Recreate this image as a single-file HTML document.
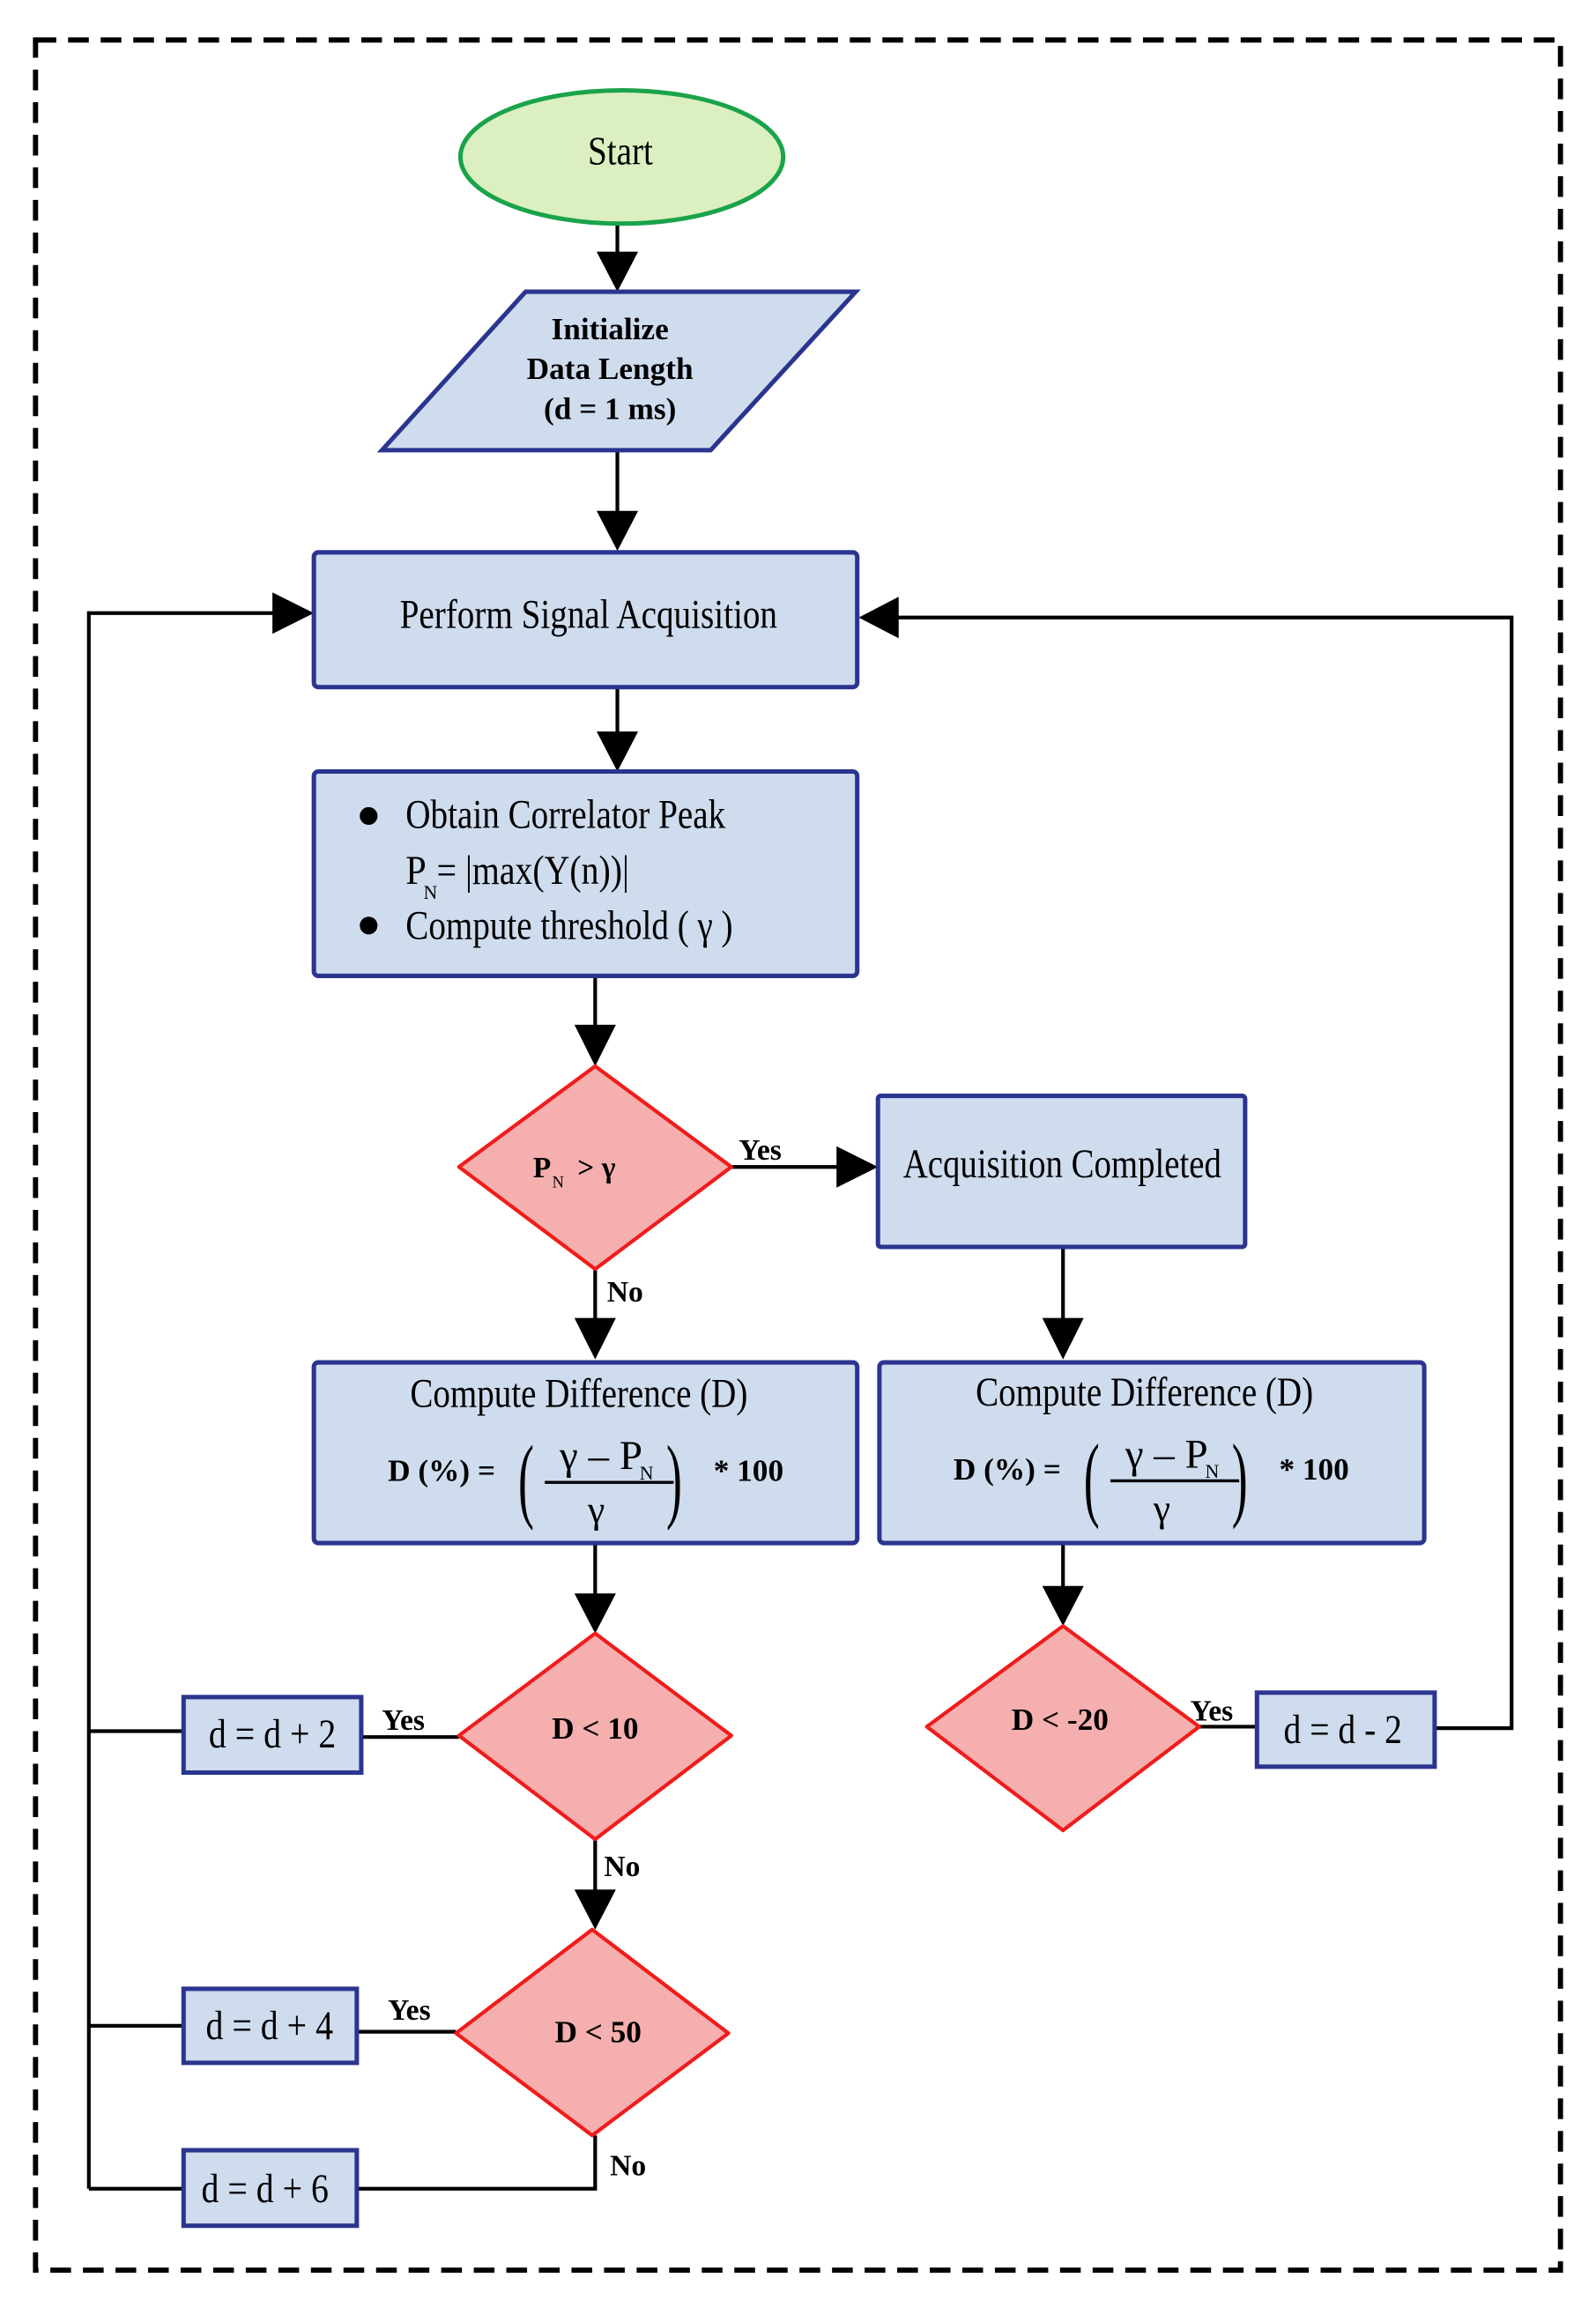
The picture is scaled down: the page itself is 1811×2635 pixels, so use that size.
<!DOCTYPE html>
<html><head><meta charset="utf-8"><style>
html,body{margin:0;padding:0;background:#fff}
svg{display:block}
text{font-family:"Liberation Serif",serif;fill:#000}
.b{font-weight:bold}
</style></head><body>
<svg width="1811" height="2635" viewBox="0 0 1078 1568" preserveAspectRatio="none" xmlns="http://www.w3.org/2000/svg">
<rect x="24" y="27" width="1030" height="1506" fill="none" stroke="#000" stroke-width="3.5" stroke-dasharray="14 8"/>

<g stroke="#000" stroke-width="2.5" fill="none">
<line x1="417" y1="152" x2="417" y2="175"/>
<line x1="417" y1="304" x2="417" y2="350"/>
<line x1="417" y1="464" x2="417" y2="499"/>
<line x1="402" y1="659" x2="402" y2="698"/>
<line x1="494" y1="788" x2="570" y2="788"/>
<line x1="402" y1="857" x2="402" y2="896"/>
<line x1="718" y1="842" x2="718" y2="896"/>
<line x1="402" y1="1042" x2="402" y2="1081"/>
<line x1="718" y1="1042" x2="718" y2="1076"/>
<line x1="810" y1="1166" x2="849" y2="1166"/>
<polyline points="969,1167 1021,1167 1021,417 600,417"/>
<line x1="244" y1="1173" x2="310" y2="1173"/>
<line x1="124" y1="1169" x2="60" y2="1169"/>
<line x1="402" y1="1242" x2="402" y2="1281"/>
<line x1="241" y1="1372" x2="308" y2="1372"/>
<line x1="124" y1="1368" x2="60" y2="1368"/>
<polyline points="402,1442 402,1478 241,1478"/>
<line x1="124" y1="1478" x2="60" y2="1478"/>
<polyline points="60,1478 60,414 190,414"/>
</g>
<g fill="#000">
<polygon points="403,170 431,170 417,197"/>
<polygon points="403,345 431,345 417,372"/>
<polygon points="403,494 431,494 417,521"/>
<polygon points="388,692 416,692 402,720"/>
<polygon points="565,774 565,802 593,788"/>
<polygon points="388,890 416,890 402,918"/>
<polygon points="704,890 732,890 718,918"/>
<polygon points="388,1076 416,1076 402,1103"/>
<polygon points="704,1071 732,1071 718,1098"/>
<polygon points="388,1276 416,1276 402,1303"/>
<polygon points="184,400 184,428 212,414"/>
<polygon points="607,403 607,431 580,417"/>
</g>

<ellipse cx="420" cy="106" rx="109" ry="45" fill="#dcefc0" stroke="#1aa34a" stroke-width="3"/>
<text x="419" y="111" font-size="27" text-anchor="middle" textLength="44" lengthAdjust="spacingAndGlyphs">Start</text>

<polygon points="258,304 355,197 578,197 480,304" fill="#cfdcee" stroke="#2b3590" stroke-width="3"/>
<text class="b" x="412" y="229" font-size="21" text-anchor="middle">Initialize</text>
<text class="b" x="412" y="256" font-size="21" text-anchor="middle">Data Length</text>
<text class="b" x="412" y="283" font-size="21" text-anchor="middle">(d = 1 ms)</text>

<g fill="#cfdcee" stroke="#2b3590" stroke-width="3">
<rect x="212" y="373" width="367" height="91" rx="3"/>
<rect x="212" y="521" width="367" height="138" rx="3"/>
<rect x="593" y="740" width="248" height="102" rx="2"/>
<rect x="212" y="920" width="367" height="122" rx="3"/>
<rect x="594" y="920" width="368" height="122" rx="3"/>
<rect x="849" y="1143" width="120" height="50"/>
<rect x="124" y="1146" width="120" height="51"/>
<rect x="124" y="1343" width="117" height="50"/>
<rect x="124" y="1452" width="117" height="51"/>
</g>
<g fill="#f4afae" stroke="#f01c1c" stroke-width="2.5" stroke-linejoin="round">
<polygon points="402,720 494,788 402,857 310,788"/>
<polygon points="402,1103 494,1172 402,1242 310,1172"/>
<polygon points="718,1098 810,1166 718,1236 626,1166"/>
<polygon points="400,1303 492,1373 400,1442 308,1373"/>
</g>

<text x="270" y="424" font-size="28" textLength="255" lengthAdjust="spacingAndGlyphs">Perform Signal Acquisition</text>
<circle cx="249" cy="551" r="6" fill="#000"/>
<circle cx="249" cy="625" r="6" fill="#000"/>
<text x="274" y="559" font-size="28" textLength="216" lengthAdjust="spacingAndGlyphs">Obtain Correlator Peak</text>
<text x="274" y="597" font-size="28" textLength="14" lengthAdjust="spacingAndGlyphs">P</text>
<text x="286" y="607" font-size="13">N</text>
<text x="295" y="597" font-size="28" textLength="130" lengthAdjust="spacingAndGlyphs">= |max(Y(n))|</text>
<text x="274" y="634" font-size="28" textLength="221" lengthAdjust="spacingAndGlyphs">Compute threshold ( γ )</text>

<text class="b" x="360" y="795" font-size="20">P</text>
<text x="373" y="802" font-size="11">N</text>
<text class="b" x="390" y="795" font-size="20">&gt;  γ</text>
<text class="b" x="499" y="783" font-size="20">Yes</text>
<text x="610" y="795" font-size="28" textLength="215" lengthAdjust="spacingAndGlyphs">Acquisition Completed</text>
<text class="b" x="410" y="879" font-size="20">No</text>

<g id="cd">
<text x="277" y="950" font-size="28" textLength="228" lengthAdjust="spacingAndGlyphs">Compute Difference (D)</text>
<text class="b" x="262" y="1000" font-size="21">D (%) =</text>
<text x="350" y="1020" font-size="64" transform="translate(350 0) scale(0.5 1) translate(-350 0)">(</text>
<text x="378" y="992" font-size="28">γ –  P</text>
<text x="432" y="999" font-size="13">N</text>
<line x1="368" y1="1001" x2="455" y2="1001" stroke="#000" stroke-width="2"/>
<text x="397" y="1028" font-size="26">γ</text>
<text x="450" y="1020" font-size="64" transform="translate(450 0) scale(0.5 1) translate(-450 0)">)</text>
<text class="b" x="482" y="1000" font-size="21">* 100</text>
</g>
<use href="#cd" x="382" y="-1"/>

<text class="b" x="402" y="1174" font-size="21" text-anchor="middle">D &lt; 10</text>
<text class="b" x="716" y="1168" font-size="21" text-anchor="middle">D &lt; -20</text>
<text class="b" x="404" y="1379" font-size="21" text-anchor="middle">D &lt; 50</text>
<text class="b" x="258" y="1168" font-size="20">Yes</text>
<text class="b" x="804" y="1162" font-size="20">Yes</text>
<text class="b" x="262" y="1364" font-size="20">Yes</text>
<text class="b" x="408" y="1267" font-size="20">No</text>
<text class="b" x="412" y="1469" font-size="20">No</text>

<text x="184" y="1180" font-size="28" text-anchor="middle" textLength="86" lengthAdjust="spacingAndGlyphs">d = d + 2</text>
<text x="182" y="1377" font-size="28" text-anchor="middle" textLength="86" lengthAdjust="spacingAndGlyphs">d = d + 4</text>
<text x="179" y="1487" font-size="28" text-anchor="middle" textLength="86" lengthAdjust="spacingAndGlyphs">d = d + 6</text>
<text x="907" y="1177" font-size="28" text-anchor="middle" textLength="80" lengthAdjust="spacingAndGlyphs">d = d - 2</text>
</svg>
</body></html>
